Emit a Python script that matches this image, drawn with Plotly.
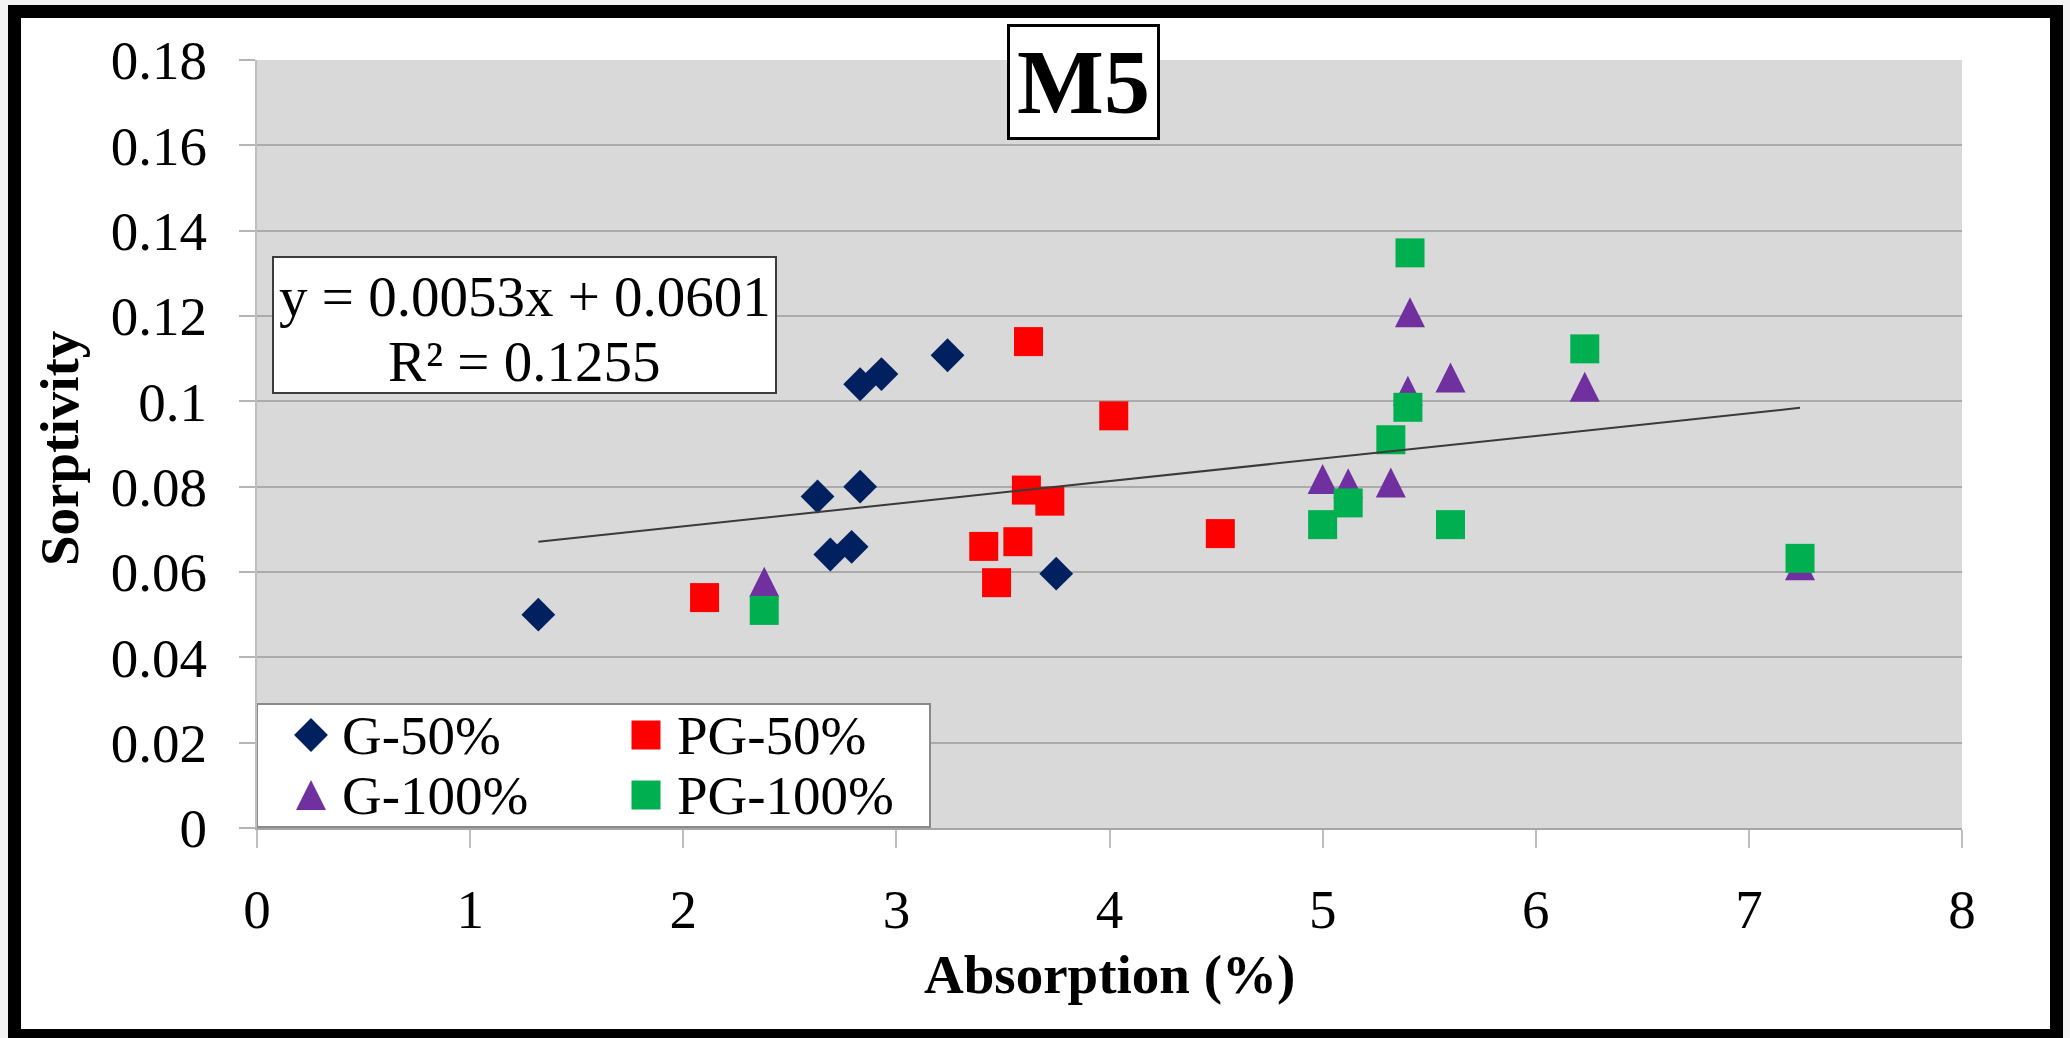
import plotly.graph_objects as go

# ---- data: absorption (%) vs sorptivity, mix M5 ----
G50_X = [1.32, 2.63, 2.69, 2.79, 2.83, 2.83, 2.93, 3.24, 3.75]
G50_Y = [0.0500, 0.0777, 0.0641, 0.0659, 0.0800, 0.1040, 0.1064, 0.1108, 0.0596]

PG50_X = [2.10, 3.41, 3.47, 3.57, 3.61, 3.62, 3.72, 4.02, 4.52]
PG50_Y = [0.0540, 0.0660, 0.0575, 0.0671, 0.0792, 0.1140, 0.0766, 0.0966, 0.0690]

G100_X = [2.38, 5.00, 5.12, 5.32, 5.40, 5.41, 5.60, 6.23, 7.24]
G100_Y = [0.0577, 0.0818, 0.0808, 0.0810, 0.1025, 0.1209, 0.1056, 0.1034, 0.0616]

PG100_X = [2.38, 5.00, 5.12, 5.32, 5.40, 5.41, 5.60, 6.23, 7.24]
PG100_Y = [0.0510, 0.0711, 0.0762, 0.0910, 0.0986, 0.1348, 0.0711, 0.1123, 0.0632]

SERIES_NAMES = ["G-50%", "PG-50%", "G-100%", "PG-100%"]

# linear trend over all points
TREND_SLOPE = 0.0053
TREND_INTERCEPT = 0.0601
TREND_R2 = 0.1255

CHART_TITLE = "M5"
X_TITLE = "Absorption (%)"
Y_TITLE = "Sorptivity"

X_TICKS = [0, 1, 2, 3, 4, 5, 6, 7, 8]
X_TICK_LABELS = ["0", "1", "2", "3", "4", "5", "6", "7", "8"]
Y_TICKS = [0, 0.02, 0.04, 0.06, 0.08, 0.10, 0.12, 0.14, 0.16, 0.18]
Y_TICK_LABELS = ["0", "0.02", "0.04", "0.06", "0.08", "0.1", "0.12", "0.14", "0.16", "0.18"]

X_RANGE = [0, 8]
Y_RANGE = [0, 0.18]

# ---- page geometry (pixels) ----
W, H = 2070, 1038
L, R, T, B = 257, 108, 60, 210
PW = W - L - R
PH = H - T - B
FONT = "Liberation Serif"
FS = 55


def paper_x(px):
    return (px - L) / PW


def paper_y(py):
    return (H - B - py) / PH


def data_x(px):
    return X_RANGE[0] + (px - L) / PW * (X_RANGE[1] - X_RANGE[0])


def data_y(py):
    return Y_RANGE[0] + (H - B - py) / PH * (Y_RANGE[1] - Y_RANGE[0])


# the upward triangle is an arrow turned round and pushed back onto its point
STYLES = {
    "G-50%": dict(symbol="diamond", size=26, color="#002060"),
    "PG-50%": dict(symbol="square", size=29, color="#FF0000"),
    "G-100%": dict(symbol="arrow-down", size=30, color="#7030A0", angle=180, standoff=15),
    "PG-100%": dict(symbol="square", size=29, color="#00B050"),
}

SERIES = [
    ("G-50%", G50_X, G50_Y),
    ("PG-50%", PG50_X, PG50_Y),
    ("G-100%", G100_X, G100_Y),
    ("PG-100%", PG100_X, PG100_Y),
]


def make_marker(name):
    st = STYLES[name]
    m = dict(symbol=st["symbol"], size=st["size"], color=st["color"], line=dict(width=0))
    for k in ("angle", "standoff"):
        if k in st:
            m[k] = st[k]
    return m


fig = go.Figure()

for name, xs, ys in SERIES:
    fig.add_trace(go.Scatter(x=xs, y=ys, mode="markers", name=name,
                             marker=make_marker(name), showlegend=False,
                             cliponaxis=False))

# trend line spans the full range of absorption values
all_x = G50_X + PG50_X + G100_X + PG100_X
tx = [min(all_x), max(all_x)]
ty = [TREND_SLOPE * v + TREND_INTERCEPT for v in tx]
fig.add_trace(go.Scatter(x=tx, y=ty, mode="lines", showlegend=False,
                         line=dict(color="#3a3a3a", width=2)))

# ---- hand-built legend (2 x 2 grid) ----
LEG_BOX = (257, 704, 930, 827)          # left, top, right, bottom (px)
LEG_COLS_MARK = [311, 646]
LEG_COLS_TEXT = [340, 675]
LEG_ROWS = [735, 795]
for i, name in enumerate(SERIES_NAMES):
    row, col = divmod(i, 2)
    fig.add_trace(go.Scatter(x=[paper_x(LEG_COLS_MARK[col])],
                             y=[paper_y(LEG_ROWS[row])],
                             xaxis="x2", yaxis="y2", mode="markers",
                             marker=make_marker(name), showlegend=False,
                             cliponaxis=False, hoverinfo="skip"))

shapes = [
    # light page margin and the heavy black frame
    dict(type="rect", xref="paper", yref="paper", layer="below",
         x0=paper_x(0), x1=paper_x(W), y0=paper_y(H), y1=paper_y(0),
         line=dict(color="#f3f3f3", width=16), fillcolor="rgba(0,0,0,0)"),
    dict(type="rect", xref="paper", yref="paper", layer="below",
         x0=paper_x(14.5), x1=paper_x(2056.5), y0=paper_y(1035.5), y1=paper_y(11.5),
         line=dict(color="#000000", width=13), fillcolor="rgba(0,0,0,0)"),
    # equation box
    dict(type="rect", xref="x", yref="y", layer="between",
         x0=data_x(273), x1=data_x(776), y0=data_y(393), y1=data_y(257),
         line=dict(color="#3c3c3c", width=2), fillcolor="#ffffff"),
    # legend box
    dict(type="rect", xref="x", yref="y", layer="between",
         x0=data_x(LEG_BOX[0]), x1=data_x(LEG_BOX[2]),
         y0=data_y(LEG_BOX[3]), y1=data_y(LEG_BOX[1]),
         line=dict(color="#8a8a8a", width=2), fillcolor="#ffffff"),
]

txt = dict(family=FONT, size=FS, color="#000000")
eq_txt = dict(family=FONT, size=57, color="#000000")
bold = dict(family=FONT, size=FS, color="#000000", weight="bold")
annotations = [
    dict(text=CHART_TITLE, xref="paper", yref="paper",
         x=paper_x(1083.5), y=paper_y(82), xanchor="center", yanchor="middle",
         showarrow=False, font=dict(family=FONT, size=92, color="#000000", weight="bold"),
         bgcolor="#ffffff", bordercolor="#000000", borderwidth=3, borderpad=2,
         width=143, height=106),
    dict(text=f"y = {TREND_SLOPE}x + {TREND_INTERCEPT}", xref="paper", yref="paper",
         x=paper_x(524.5), y=paper_y(296), xanchor="center", yanchor="middle",
         showarrow=False, font=eq_txt),
    dict(text=f"R² = {TREND_R2}", xref="paper", yref="paper",
         x=paper_x(524.5), y=paper_y(361), xanchor="center", yanchor="middle",
         showarrow=False, font=eq_txt),
    dict(text=X_TITLE, xref="paper", yref="paper",
         x=paper_x(1109), y=paper_y(974), xanchor="center", yanchor="middle",
         showarrow=False, font=bold),
    dict(text=Y_TITLE, xref="paper", yref="paper", textangle=-90,
         x=paper_x(59), y=paper_y(449), xanchor="center", yanchor="middle",
         showarrow=False, font=bold),
]
for i, name in enumerate(SERIES_NAMES):
    row, col = divmod(i, 2)
    annotations.append(dict(text=name, xref="paper", yref="paper",
                            x=paper_x(LEG_COLS_TEXT[col]), y=paper_y(LEG_ROWS[row]),
                            xanchor="left", yanchor="middle", showarrow=False,
                            font=txt))

fig.update_layout(
    width=W, height=H,
    margin=dict(l=L, r=R, t=T, b=B, pad=0),
    paper_bgcolor="#ffffff",
    plot_bgcolor="#d9d9d9",
    font=txt,
    showlegend=False,
    shapes=shapes,
    annotations=annotations,
    xaxis=dict(range=X_RANGE, tickvals=X_TICKS, ticktext=X_TICK_LABELS,
               showgrid=False, zeroline=False,
               showline=True, linecolor="#a6a6a6", linewidth=2,
               ticks="outside", ticklen=18, tickwidth=2, tickcolor="#bfbfbf",
               ticklabelstandoff=14, tickfont=txt, fixedrange=True),
    yaxis=dict(range=Y_RANGE, tickvals=Y_TICKS, ticktext=Y_TICK_LABELS,
               showgrid=True, gridcolor="#ababab", gridwidth=2, zeroline=False,
               showline=True, linecolor="#bfbfbf", linewidth=2,
               ticks="outside", ticklen=16, tickwidth=2, tickcolor="#b5b5b5",
               ticklabelstandoff=21, tickfont=txt, fixedrange=True),
    xaxis2=dict(overlaying="x", anchor="y2", range=[0, 1], visible=False,
                fixedrange=True),
    yaxis2=dict(overlaying="y", anchor="x2", range=[0, 1], visible=False,
                fixedrange=True),
)

fig.write_html("out.html")
